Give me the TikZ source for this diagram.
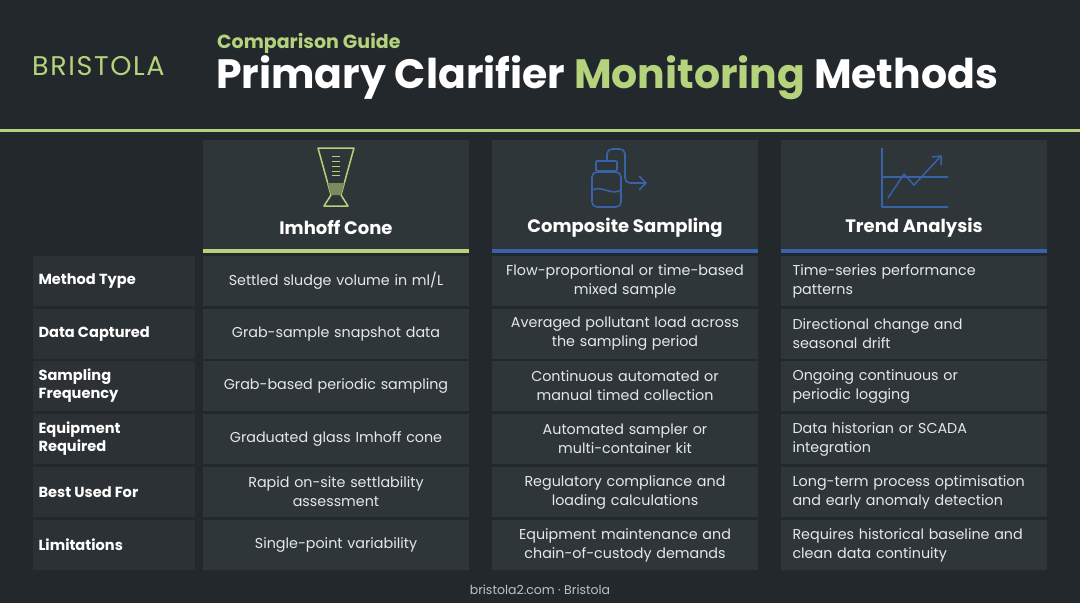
\documentclass[tikz,border=0pt]{standalone}
\usepackage{fontspec}
\setmainfont{Poppins}
\begin{document}
\definecolor{bg}{HTML}{23282C}
\definecolor{cell}{HTML}{2F363A}
\definecolor{lab}{HTML}{2B3135}
\definecolor{grn}{HTML}{B5D37C}
\definecolor{blu}{HTML}{3A62A8}
\definecolor{txt}{HTML}{E6E8E8}
\begin{tikzpicture}[x=1pt,y=-1pt,
 ctext/.style={text=txt,font=\fontsize{14.3}{19}\selectfont,align=center,text width=262pt},
 ltext/.style={text=txt,font=\fontsize{14.3}{19}\selectfont,align=left,text width=262pt,anchor=west},
 rlab/.style={text=white,font=\bfseries\fontsize{14.6}{18}\selectfont,align=left,anchor=west},
 head/.style={text=white,font=\bfseries\fontsize{18}{20}\selectfont}]
\fill[bg] (0,0) rectangle (1080,603);
\useasboundingbox (0,0) rectangle (1080,603);
% header
\node[text=grn,font=\fontsize{27}{28}\selectfont\addfontfeature{LetterSpace=6}\selectfont,anchor=west,inner sep=0] (logo) at (32,66) {BRISTOLA};
\node[text=grn,font=\bfseries\fontsize{19}{20}\selectfont,anchor=west,inner sep=0] (sub) at (217,43) {Comparison Guide};
\node[text=white,font=\bfseries\fontsize{41}{42}\selectfont,anchor=west,inner sep=0] (title) at (216,78) {Primary Clarifier \textcolor{grn}{Monitoring} Methods};
\fill[grn] (0,128.5) rectangle (1080,132);
% column headers
\foreach \x/\c in {203/grn,492/blu,781/blu}{
  \fill[cell] (\x,140) rectangle (\x+266,253);
  \fill[\c] (\x,249) rectangle (\x+266,253);
}
\node[head] (h1) at (336,228) {Imhoff Cone};
\node[head] (h2) at (625,228) {Composite Sampling};
\node[head] (h3) at (914,228) {Trend Analysis};
% icons
\begin{scope}[grn,line width=1.5pt,line join=round]
 \draw (318,148) -- (354,148) -- (341,195) -- (348,206) -- (324,206) -- (331,195) -- cycle;
 \fill[grn!55!cell] (327.5,183) -- (344.5,183) -- (341,195) -- (331,195) -- cycle;
 \foreach \yy in {156,161,166,171,175}{\draw[line width=0.9pt] (332,\yy) -- (340,\yy);}
\end{scope}
\begin{scope}[blu,line width=1.6pt,line join=round]
 \draw[rounded corners=5pt] (592,172) -- (592,207) -- (621,207) -- (621,172) -- cycle;
 \draw[rounded corners=1pt] (596,161) rectangle (617,171);
 \draw (592,190) .. controls (602,185) and (611,196) .. (621,190);
 \draw[rounded corners=5pt] (607,161) -- (607,149) -- (625,149) -- (625,183) -- (646,183);
 \draw (639,176) -- (646,183) -- (639,190);
\end{scope}
\begin{scope}[blu,line width=1.5pt,line join=round]
 \draw (882,148) -- (882,207) -- (948,207);
 \draw (882,177) -- (948,177);
 \draw (888,198) -- (904,174) -- (914,185) -- (941,156);
 \draw (932,157) -- (941,156) -- (941,165);
\end{scope}
% rows
\foreach \y/\name [count=\i] in {281/Method Type,334/Data Captured,386/{Sampling\\Frequency},439/{Equipment\\Required},492/Best Used For,545/Limitations}{
  \fill[lab] (33,\y-25) rectangle (195,\y+25);
  \node[rlab] (r\i) at (35,\y) {\name};
  \fill[cell] (203,\y-25) rectangle (469,\y+25);
  \fill[cell] (492,\y-25) rectangle (758,\y+25);
  \fill[cell] (781,\y-25) rectangle (1047,\y+25);
}
\node[ctext] (a1) at (336,281) {Settled sludge volume in ml/L};
\node[ctext] (a2) at (336,334) {Grab-sample snapshot data};
\node[ctext] (a3) at (336,386) {Grab-based periodic sampling};
\node[ctext] (a4) at (336,439) {Graduated glass Imhoff cone};
\node[ctext] (a5) at (336,492) {Rapid on-site settlability\\assessment};
\node[ctext] (a6) at (336,545) {Single-point variability};
\node[ctext] (b1) at (625,281) {Flow-proportional or time-based\\mixed sample};
\node[ctext] (b2) at (625,334) {Averaged pollutant load across\\the sampling period};
\node[ctext] (b3) at (625,386) {Continuous automated or\\manual timed collection};
\node[ctext] (b4) at (625,439) {Automated sampler or\\multi-container kit};
\node[ctext] (b5) at (625,492) {Regulatory compliance and\\loading calculations};
\node[ctext] (b6) at (625,545) {Equipment maintenance and\\chain-of-custody demands};
\node[ltext] (c1) at (789,281) {Time-series performance\\patterns};
\node[ltext] (c2) at (789,334) {Directional change and\\seasonal drift};
\node[ltext] (c3) at (789,386) {Ongoing continuous or\\periodic logging};
\node[ltext] (c4) at (789,439) {Data historian or SCADA\\integration};
\node[ltext] (c5) at (789,492) {Long-term process optimisation\\and early anomaly detection};
\node[ltext] (c6) at (789,545) {Requires historical baseline and\\clean data continuity};
\node[text=txt!80!bg,font=\fontsize{12.5}{14}\selectfont] (foot) at (540,590) {bristola2.com · Bristola};
\end{tikzpicture}
\end{document}
